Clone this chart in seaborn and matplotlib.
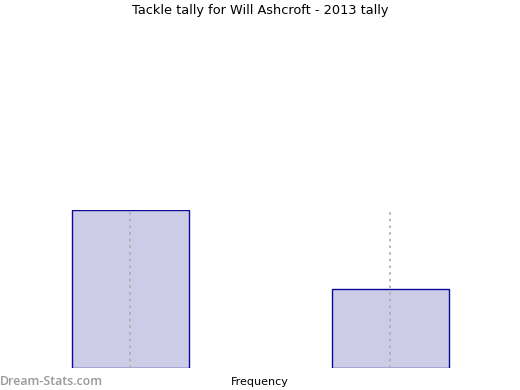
import matplotlib
matplotlib.use("Agg")
import matplotlib.pyplot as plt
import seaborn as sns
import pandas as pd

categories = ["A", "B"]
values = [2, 1]

df = pd.DataFrame({"cat": categories, "val": values})

sns.set_theme(style="white")
plt.rcParams['font.family'] = ['DejaVu Sans']

fig = plt.figure(figsize=(5.2, 3.9), dpi=100)
ax = fig.add_axes([0, 22/390, 1, 158/390])
sns.barplot(data=df, x="cat", y="val", ax=ax, width=0.45,
            color="#ccccE6", edgecolor="#0a0a9a", linewidth=1.0, saturation=1)
ax.set_xlim(-0.5, 1.5)
ax.set_ylim(0, max(values))
for s in ax.spines.values():
    s.set_visible(False)
ax.set_xticks(range(len(categories)))
ax.set_xticklabels([])
ax.set_yticks([])
ax.tick_params(length=0)
ax.grid(axis="x", color="#aaaaaa", linestyle=(0, (1.5, 2.5)), linewidth=1.2)
ax.set_axisbelow(False)
ax.set_ylabel("")
ax.set_xlabel("Frequency", fontsize=8, labelpad=3, color="black")
fig.suptitle("Tackle tally for Will Ashcroft - 2013 tally", fontsize=9.3, y=0.99,
             color="black")
fig.text(0.0, 0.006, "Dream-Stats.com", fontsize=8.9, color="#999999",
         family=["Open Sans", "DejaVu Sans"], fontweight="semibold",
         ha="left", va="bottom")
fig.savefig("out.png", dpi=100)
